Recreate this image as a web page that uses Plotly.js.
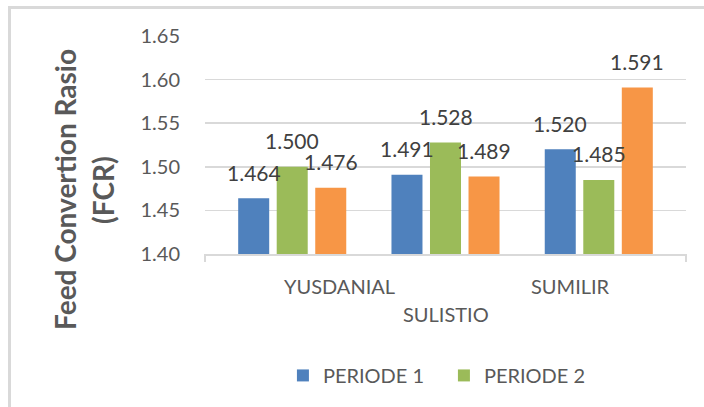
<!DOCTYPE html>
<html>
<head>
<meta charset="utf-8">
<script src="https://cdn.plot.ly/plotly-3.0.1.min.js"></script>
<style>
html,body{margin:0;padding:0;background:#fff;overflow:hidden;width:704px;height:407px}
#frame{position:absolute;left:8px;top:6px;width:900px;height:600px;border:3px solid #d9d9d9;box-sizing:border-box}
#chart{position:absolute;left:0;top:0;width:704px;height:407px}
</style>
</head>
<body>
<div id="frame"></div>
<div id="chart"></div>
<script>
// ---- data ----
const categories = ['YUSDANIAL', 'SULISTIO', 'SUMILIR'];
const seriesNames = ['PERIODE 1', 'PERIODE 2', 'PERIODE 3'];
const periode1 = [1.464, 1.491, 1.520];
const periode2 = [1.500, 1.528, 1.485];
const periode3 = [1.476, 1.489, 1.591];
const yTickVals = [1.40, 1.45, 1.50, 1.55, 1.60, 1.65];
const yTickText = ['1.40', '1.45', '1.50', '1.55', '1.60', '1.65'];
const yTitleLines = ['Feed Convertion Rasio', '(FCR)'];

// ---- styling ----
const colors = ['#4F81BD', '#9BBB59', '#F79646'];
const showInLegend = [true, true, false];
const FONT = 'Lato, "Open Sans", "Liberation Sans", sans-serif';
const TXT = '#595959';
const bargap = 0.246;
const bargroupgap = 0.195;
const catLabelShift = [[47, -32], [0, -60], [-28, -32]]; // x,y pixel offsets of staggered labels

const series = [periode1, periode2, periode3];
const traces = series.map((vals, k) => ({
  type: 'bar',
  name: seriesNames[k],
  x: categories,
  y: vals,
  marker: {color: colors[k]},
  showlegend: showInLegend[k],
  hoverinfo: 'skip'
}));

const annotations = [];
const slot = (1 - bargap) / series.length;
series.forEach((vals, k) => {
  vals.forEach((v, i) => {
    annotations.push({
      xref: 'x', yref: 'y',
      x: i + (k - (series.length - 1) / 2) * slot,
      y: v,
      text: v.toFixed(3),
      showarrow: false,
      yanchor: 'middle', xanchor: 'center',
      yshift: 26,
      font: {family: FONT, size: 21, color: '#404040'}
    });
  });
});
categories.forEach((c, i) => {
  annotations.push({
    xref: 'x', yref: 'paper',
    x: i, y: 0,
    text: c,
    showarrow: false,
    xanchor: 'center', yanchor: 'middle',
    xshift: catLabelShift[i][0], yshift: catLabelShift[i][1],
    font: {family: FONT, size: 20, color: TXT}
  });
});
const titleX = [-140, -102];
yTitleLines.forEach((t, j) => {
  annotations.push({
    xref: 'paper', yref: 'paper',
    x: 0, y: 0.294,
    xshift: titleX[j],
    text: t,
    textangle: -90,
    showarrow: false,
    xanchor: 'center', yanchor: 'middle',
    font: {family: FONT, size: 28, color: TXT, weight: 'bold'}
  });
});

const layout = {
  width: 704, height: 407,
  margin: {l: 205, r: 18, t: 36, b: 150},
  paper_bgcolor: 'rgba(0,0,0,0)',
  plot_bgcolor: 'rgba(0,0,0,0)',
  barmode: 'group',
  bargap: bargap,
  bargroupgap: bargroupgap,
  font: {family: FONT, size: 20, color: TXT},
  xaxis: {
    type: 'category',
    range: [-0.569, 2.569],
    showticklabels: false,
    ticks: '',
    showgrid: false,
    showline: true, linecolor: '#d9d9d9', linewidth: 2,
    zeroline: false, automargin: false, fixedrange: true
  },
  yaxis: {
    range: [1.40, 1.65],
    tickvals: yTickVals,
    ticktext: yTickText,
    tickfont: {family: FONT, size: 20, color: TXT},
    ticks: '',
    ticklabelstandoff: 24,
    showgrid: true, gridcolor: '#d9d9d9', gridwidth: 1.5,
    showline: false, zeroline: false, automargin: false, fixedrange: true
  },
  legend: {
    orientation: 'h',
    x: 0.162, xanchor: 'left',
    y: -0.557, yanchor: 'middle',
    font: {family: FONT, size: 20, color: TXT},
    entrywidth: 116, entrywidthmode: 'pixels',
    bgcolor: 'rgba(0,0,0,0)'
  },
  shapes: [0, 1].map(px => ({
    type: 'line', xref: 'paper', yref: 'paper',
    x0: px, x1: px,
    ysizemode: 'pixel', yanchor: 0, y0: 0, y1: -8,
    line: {color: '#d9d9d9', width: 2}
  })),
  annotations: annotations
};

Plotly.newPlot('chart', traces, layout, {displayModeBar: false, staticPlot: true});
</script>
</body>
</html>
